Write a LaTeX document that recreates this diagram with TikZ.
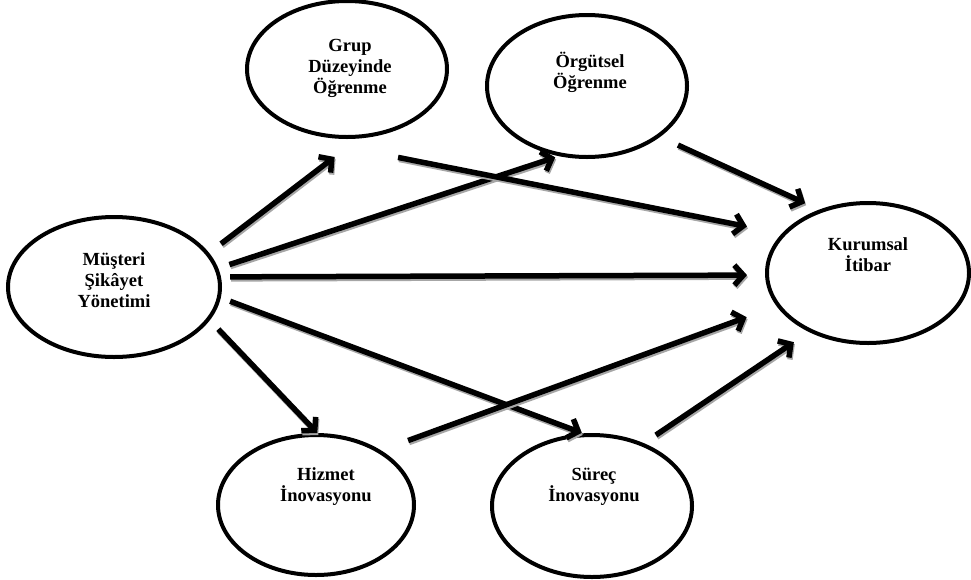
\documentclass[tikz,border=0pt]{standalone}
\usepackage{fontspec}
\setmainfont{Liberation Serif}
\usetikzlibrary{arrows.meta,calc,shapes.geometric}
\begin{document}
\begin{tikzpicture}[x=1pt,y=-1pt,
  bubble/.style={ellipse, draw=black, line width=4pt, inner sep=0pt, outer sep=0pt},
  lbl/.style={font=\bfseries\fontsize{18.5}{21}\selectfont, align=center, inner sep=0pt},
  arrowline/.style={line width=5.5pt, -{Straight Barb[length=9pt,width=20pt]}},
  link/.style={arrowline,
    preaction={arrowline, draw=black!35, transform canvas={shift={(1pt,-2pt)}}}}
]
\useasboundingbox (0,0) rectangle (971,579);

% constructs
\node[bubble, minimum width=212pt, minimum height=140pt] (m) at (114,287) {};
\node[bubble, minimum width=200pt, minimum height=136pt] (g) at (347,69) {};
\node[bubble, minimum width=200pt, minimum height=142pt] (o) at (587,86) {};
\node[bubble, minimum width=202pt, minimum height=140pt] (k) at (868,273) {};
\node[bubble, minimum width=196pt, minimum height=140pt] (h) at (316,505) {};
\node[bubble, minimum width=200pt, minimum height=142pt] (s) at (592,506) {};

% labels
\node[lbl] (mt) at (114,280) {Müşteri\\Şikâyet\\Yönetimi};
\node[lbl] (gt) at (350,68) {Grup\\Düzeyinde\\Öğrenme};
\node[lbl] (ot) at (590,72) {Örgütsel\\Öğrenme};
\node[lbl] (kt) at (868,255) {Kurumsal\\İtibar};
\node[lbl] (ht) at (326,487) {Hizmet\\İnovasyonu};
\node[lbl] (st) at (594,487) {Süreç\\İnovasyonu};

% paths of the model
\draw[link] ($(m.22)!-18pt!(m.center)$) -- ($(g.-98)!-20.5pt!(g.center)$);
\draw[link] ($(m.11)!-14pt!(m.center)$) -- ($(o.-114)!-4pt!(o.center)$);
\draw[link] ($(m.5)!-11pt!(m.center)$) -- ($(k.181)!-20pt!(k.center)$);
\draw[link] ($(m.-7)!-12pt!(m.center)$) -- ($(s.98)!-2.5pt!(s.center)$);
\draw[link] ($(m.-22)!-15pt!(m.center)$) -- ($(h.89)!-2pt!(h.center)$);
\draw[link] ($(g.-60)!-29pt!(g.center)$) -- ($(k.159)!-35pt!(k.center)$);
\draw[link] ($(o.-33)!-20.5pt!(o.center)$) -- ($(k.132)!-14pt!(k.center)$);
\draw[link] ($(h.35)!-27pt!(h.center)$) -- ($(k.200)!-34pt!(k.center)$);
\draw[link] ($(s.48)!-15pt!(s.center)$) -- ($(k.-137)!-19pt!(k.center)$);
\end{tikzpicture}
\end{document}
